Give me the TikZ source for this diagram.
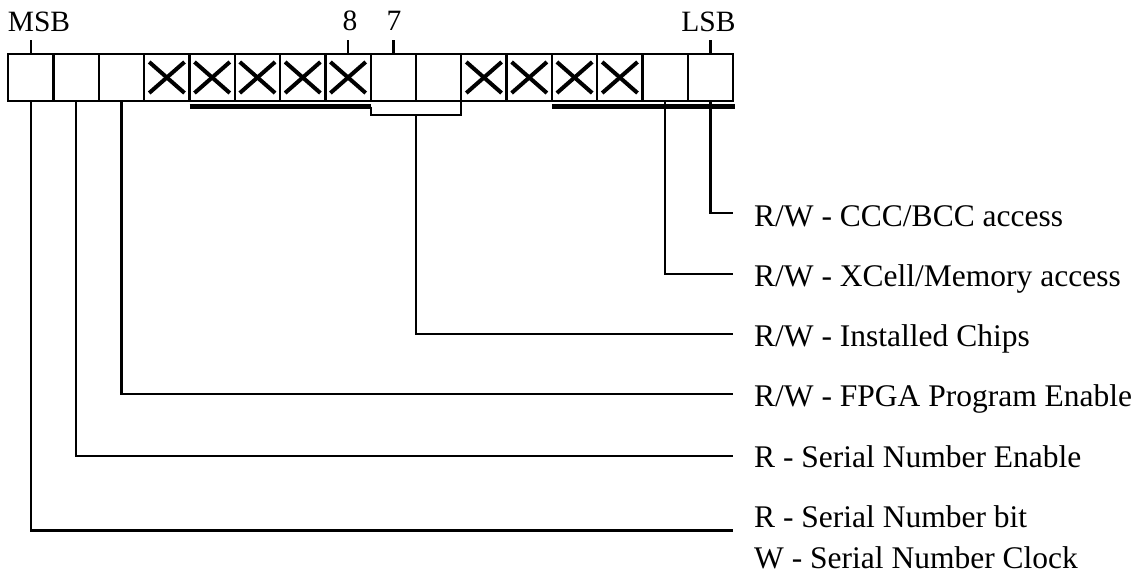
\documentclass[tikz,border=0pt]{standalone}
\usepackage{fontspec}
\setmainfont{Liberation Serif}
\begin{document}
\begin{tikzpicture}[x=1pt,y=-1pt,
  cell/.style={draw,line width=2.3pt,minimum width=45.3pt,minimum height=47pt,inner sep=0pt,outer sep=0pt},
  xmark/.style={line width=4pt},
  wire/.style={line width=2.3pt},
  bar/.style={line width=5.5pt},
  toplab/.style={inner sep=0pt,font=\fontsize{29.5}{35}\selectfont},
  lab/.style={inner sep=0pt,font=\fontsize{31.5}{37}\selectfont}]
\useasboundingbox (0,0) rectangle (1138,576);
% register cells
\foreach \i in {1,...,16}
  \node[cell] (c\i) at ({8.3+(\i-0.5)*45.3},77.5) {};
\foreach \i in {4,5,6,7,8,11,12,13,14} {
  \draw[xmark] ([shift={(5pt,-8pt)}]c\i.north west) -- ([shift={(-5pt,8pt)}]c\i.south east);
  \draw[xmark] ([shift={(5pt,8pt)}]c\i.south west) -- ([shift={(-5pt,-8pt)}]c\i.north east);
}
% top labels and ticks
\node[toplab,anchor=base] (msb) at (39,31.7) {MSB};
\node[toplab,anchor=base] (b8) at (350,30) {8};
\node[toplab,anchor=base] (b7) at (394,30) {7};
\node[toplab,anchor=base] (lsb) at (708.5,31.7) {LSB};
\draw[wire] (c1.north) -- ++(0pt,14pt);
\draw[wire] (c8.north) -- ++(0pt,14pt);
\draw[wire] (c9.north) -- ++(0pt,14pt);
\draw[wire] (c16.north) -- ++(0pt,14pt);
% group bars
\draw[bar] ([yshift=-5.5pt]c5.south west) -- ([yshift=-5.5pt]c8.south east);
\draw[bar] ([yshift=-5.5pt]c13.south west) -- ([shift={(1.5pt,-5.5pt)}]c16.south east);
\coordinate (bl) at ([yshift=-14pt]c9.south west);
\coordinate (br) at ([yshift=-14pt]c10.south east);
\draw[wire] ([yshift=-5.5pt]c9.south west) -- (bl) -- (br) -- (c10.south east);
\coordinate (bm) at ([yshift=-14pt]c9.south east);
% right labels
\node[lab,anchor=base west] (l1) at (754,226) {R/W - CCC/BCC access};
\node[lab,anchor=base west] (l2) at (754,286.5) {R/W - XCell/Memory access};
\node[lab,anchor=base west] (l3) at (754,346.5) {R/W - Installed Chips};
\node[lab,anchor=base west] (l4) at (754,406.5) {R/W - FPGA Program Enable};
\node[lab,anchor=base west] (l5) at (754,467) {R - Serial Number Enable};
\node[lab,anchor=base west] (l6) at (754,527) {R - Serial Number bit};
\node[lab,anchor=base west] (l7) at (754,568) {W - Serial Number Clock};
% wire ends
\coordinate (e1) at (733,213);
\coordinate (e2) at (733,274);
\coordinate (e3) at (733,334);
\coordinate (e4) at (733,394);
\coordinate (e5) at (733,456);
\coordinate (e6) at (733,530.5);
% connectors
\draw[wire] (c16.south) |- (e1);
\draw[wire] (c15.south) |- (e2);
\draw[wire] (bm) |- (e3);
\draw[wire] (c3.south) |- (e4);
\draw[wire] (c2.south) |- (e5);
\draw[wire] (c1.south) |- (e6);
\end{tikzpicture}
\end{document}
